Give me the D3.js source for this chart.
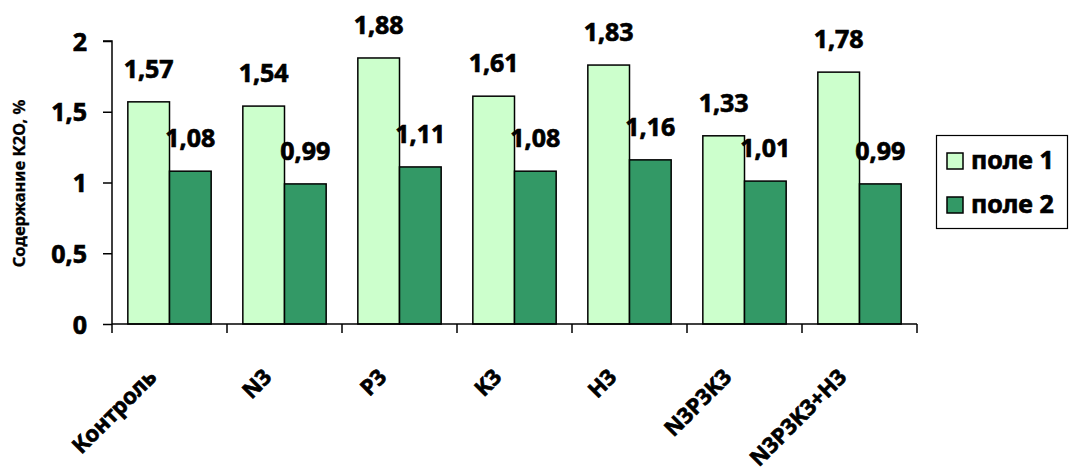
<!DOCTYPE html>
<html>
<head>
<meta charset="utf-8">
<script src="https://cdn.jsdelivr.net/npm/d3@7"></script>
<style>
  html, body { margin: 0; padding: 0; background: #ffffff; }
  svg { display: block; }
  text { font-family: "Noto Sans", "Open Sans", sans-serif; font-weight: 700; fill: #000; stroke: #000; stroke-width: 0.7px; }
</style>
</head>
<body>
<svg id="chart" width="1071" height="471"></svg>
<script>
// Содержание K2O по вариантам опыта, два поля
const categories = ["Контроль", "N3", "P3", "K3", "H3", "N3P3K3", "N3P3K3+H3"];
const field1 = [1.57, 1.54, 1.88, 1.61, 1.83, 1.33, 1.78];
const field2 = [1.08, 0.99, 1.11, 1.08, 1.16, 1.01, 0.99];
const seriesNames = ["поле 1", "поле 2"];
const seriesColors = ["#ccffcc", "#339966"];
const yTicks = [0, 0.5, 1, 1.5, 2];

const svg = d3.select("#chart");
const plot = { left: 112, right: 917, top: 41, bottom: 324 };

const x0 = d3.scaleBand().domain(categories).range([plot.left, plot.right]).paddingInner(0).paddingOuter(0);
const x1 = d3.scaleBand().domain([0, 1]).range([0, x0.bandwidth()]).paddingOuter(0.38).paddingInner(0);
const y = d3.scaleLinear().domain([0, 2]).range([plot.bottom, plot.top]);

const fmt = v => d3.format(".2f")(v).replace(".", ",");
const fmtTick = v => String(v).replace(".", ",");

const rows = categories.map((c, i) => ({ cat: c, vals: [field1[i], field2[i]] }));

// Bars
const groups = svg.append("g").selectAll("g").data(rows).join("g")
  .attr("transform", d => `translate(${x0(d.cat)},0)`);

groups.selectAll("rect").data(d => d.vals.map((v, k) => ({ v, k }))).join("rect")
  .attr("x", d => x1(d.k))
  .attr("width", x1.bandwidth())
  .attr("y", d => y(d.v))
  .attr("height", d => y(0) - y(d.v))
  .attr("fill", d => seriesColors[d.k])
  .attr("stroke", "#000")
  .attr("stroke-width", 1.5);

// Value labels above bars
groups.selectAll("text.val").data(d => d.vals.map((v, k) => ({ v, k }))).join("text")
  .attr("class", "val")
  .attr("x", d => x1(d.k) + x1.bandwidth() / 2)
  .attr("y", d => y(d.v) - 24)
  .attr("text-anchor", "middle")
  .style("font-size", "25px")
  .text(d => fmt(d.v));

// Y axis
const yAxis = d3.axisLeft(y).tickValues(yTicks).tickFormat(fmtTick).tickSize(9).tickPadding(16);
const gy = svg.append("g").attr("transform", `translate(${plot.left},0)`).call(yAxis);
gy.select(".domain").attr("stroke", "#000").attr("stroke-width", 1.5).attr("d", `M-9,${plot.top}H0V${plot.bottom}`);
gy.selectAll(".tick line").attr("stroke", "#000").attr("stroke-width", 1.5);
gy.selectAll(".tick text")
  .style("font-size", "25px").style("font-family", "'Noto Sans', sans-serif").style("font-weight", 700)
  .attr("fill", "#000").attr("dy", "0.36em");

// X axis: category boundaries as tick marks
const gx = svg.append("g");
gx.append("line")
  .attr("x1", plot.left).attr("x2", plot.right)
  .attr("y1", plot.bottom).attr("y2", plot.bottom)
  .attr("stroke", "#000").attr("stroke-width", 1.5);
const bounds = categories.map(c => x0(c)).concat([plot.right]);
gx.selectAll("line.tk").data(bounds).join("line")
  .attr("class", "tk")
  .attr("x1", d => d).attr("x2", d => d)
  .attr("y1", plot.bottom).attr("y2", plot.bottom + 9)
  .attr("stroke", "#000").attr("stroke-width", 1.5);

// Rotated category labels
gx.selectAll("text.cat").data(categories).join("text")
  .attr("class", "cat")
  .attr("transform", d => `translate(${x0(d) + x0.bandwidth() / 2 - 17},${plot.bottom + 49}) rotate(-45)`)
  .attr("text-anchor", "end")
  .attr("dy", "0.35em")
  .style("font-size", "22px")
  .text(d => d);

// Y axis title
svg.append("text")
  .attr("transform", `translate(25,${(plot.top + plot.bottom) / 2 + 1}) rotate(-90)`)
  .attr("text-anchor", "middle")
  .style("font-size", "16.5px")
  .style("stroke-width", "0.3px")
  .text("Содержание К2О, %");

// Legend
const legend = svg.append("g");
legend.append("rect")
  .attr("x", 936.5).attr("y", 135.5).attr("width", 131).attr("height", 93)
  .attr("fill", "#fff").attr("stroke", "#000").attr("stroke-width", 1.2);
const items = legend.selectAll("g").data(seriesNames).join("g")
  .attr("transform", (d, i) => `translate(947,${153 + i * 44})`);
items.append("rect")
  .attr("width", 16).attr("height", 16)
  .attr("fill", (d, i) => seriesColors[i])
  .attr("stroke", "#000").attr("stroke-width", 1.5);
items.append("text")
  .attr("x", 24).attr("y", 16)
  .style("font-size", "25px")
  .text(d => d);
</script>
</body>
</html>
